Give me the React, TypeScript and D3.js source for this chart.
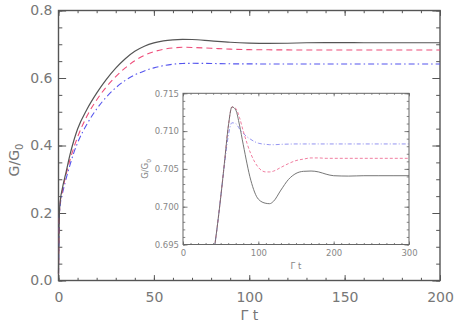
import React, { useEffect, useRef } from 'react';
import * as d3 from 'd3';

// main panel data (Γt vs G/G0)
const mainT = [0, 0.5, 1, 2, 4, 6, 8, 10, 15, 20, 25, 30, 35, 40, 45, 50, 55, 60, 65, 70, 80, 90, 100, 110, 120, 130, 140, 150, 160, 170, 180, 190, 200];
const mainBlack = [0.02, 0.205, 0.24, 0.272, 0.322, 0.372, 0.414, 0.449, 0.508, 0.555, 0.595, 0.629, 0.657, 0.679, 0.694, 0.704, 0.71, 0.713, 0.7143, 0.714, 0.71, 0.706, 0.7035, 0.7025, 0.703, 0.7045, 0.705, 0.7048, 0.7045, 0.7045, 0.7045, 0.7045, 0.7045];
const mainRed = [0.02, 0.2, 0.235, 0.265, 0.315, 0.357, 0.393, 0.425, 0.488, 0.535, 0.573, 0.604, 0.63, 0.651, 0.667, 0.678, 0.685, 0.689, 0.691, 0.6905, 0.688, 0.6855, 0.684, 0.6835, 0.6832, 0.683, 0.683, 0.683, 0.683, 0.683, 0.683, 0.683, 0.683];
const mainBlue = [0.02, 0.195, 0.228, 0.256, 0.302, 0.342, 0.378, 0.408, 0.464, 0.508, 0.543, 0.571, 0.593, 0.609, 0.621, 0.63, 0.6365, 0.6408, 0.643, 0.6435, 0.643, 0.642, 0.6418, 0.6416, 0.6415, 0.6415, 0.6415, 0.6415, 0.6415, 0.6415, 0.6415, 0.6415, 0.6415];

// inset data
const insetT = [38, 45, 50, 55, 60, 65, 70, 75, 80, 90, 100, 110, 115, 120, 130, 140, 150, 160, 170, 180, 190, 200, 220, 240, 260, 280, 300];
const insetBlack = [0.692, 0.697, 0.7012, 0.7058, 0.7105, 0.7132, 0.7128, 0.7108, 0.7082, 0.7035, 0.701, 0.70045, 0.7004, 0.7007, 0.7022, 0.7036, 0.7044, 0.70468, 0.70472, 0.7046, 0.7043, 0.7041, 0.70405, 0.7041, 0.7041, 0.7041, 0.7041];
const insetRed = [0.692, 0.697, 0.7012, 0.7058, 0.7105, 0.7132, 0.713, 0.7118, 0.71, 0.707, 0.7052, 0.7046, 0.7046, 0.7047, 0.7052, 0.7057, 0.7061, 0.7063, 0.70645, 0.70645, 0.7064, 0.7064, 0.7064, 0.7064, 0.7064, 0.7064, 0.7064];
const insetBlue = [0.692, 0.697, 0.7012, 0.7055, 0.7093, 0.7111, 0.711, 0.7103, 0.7097, 0.7089, 0.7084, 0.70825, 0.7082, 0.7082, 0.70825, 0.70828, 0.7083, 0.7083, 0.7083, 0.7083, 0.7083, 0.7083, 0.7083, 0.7083, 0.7083, 0.7083, 0.7083];

const mainXTicks = [0, 50, 100, 150, 200];
const mainYTicks = [0, 0.2, 0.4, 0.6, 0.8];
const insetXTicks = [0, 100, 200, 300];
const insetYTicks = [0.695, 0.7, 0.705, 0.71, 0.715];

const FONT = '"DejaVu Sans", sans-serif';

type Box = { left: number; top: number; right: number; bottom: number };

// IDL style frame: ticks inward on all four sides
const drawFrame = (g, x, y, box: Box, opt) => {
  const w = box.right - box.left;
  const h = box.bottom - box.top;
  const xl = 0.02 * h;
  const yl = 0.02 * w;

  const ax = (axis, tr, vals, size, fmt, pad) => {
    const a = g.append('g').attr('transform', tr).call(
      axis.tickValues(vals).tickSize(-size).tickPadding(pad).tickFormat(fmt)
    );
    a.select('.domain').remove();
    a.selectAll('line').attr('stroke', opt.stroke).attr('stroke-width', opt.tickWidth);
    a.selectAll('text')
      .attr('fill', opt.text)
      .style('font-family', FONT)
      .style('font-size', opt.fontSize + 'px');
    return a;
  };

  const none = () => '';
  // bottom
  ax(d3.axisBottom(x), `translate(0,${box.bottom})`, opt.xTicks, xl, opt.xFmt, opt.xPad);
  ax(d3.axisBottom(x), `translate(0,${box.bottom})`, opt.xMinor, xl / 2, none, 0);
  // top
  ax(d3.axisTop(x), `translate(0,${box.top})`, opt.xTicks, xl, none, 0);
  ax(d3.axisTop(x), `translate(0,${box.top})`, opt.xMinor, xl / 2, none, 0);
  // left
  ax(d3.axisLeft(y), `translate(${box.left},0)`, opt.yTicks, yl, opt.yFmt, opt.yPad);
  ax(d3.axisLeft(y), `translate(${box.left},0)`, opt.yMinor, yl / 2, none, 0);
  // right
  ax(d3.axisRight(y), `translate(${box.right},0)`, opt.yTicks, yl, none, 0);
  ax(d3.axisRight(y), `translate(${box.right},0)`, opt.yMinor, yl / 2, none, 0);

  g.append('rect')
    .attr('x', box.left)
    .attr('y', box.top)
    .attr('width', w)
    .attr('height', h)
    .attr('fill', 'none')
    .attr('stroke', opt.stroke)
    .attr('stroke-width', opt.frameWidth);
};

const App = () => {
  const ref = useRef(null);

  useEffect(() => {
    const svg = d3.select(ref.current);
    svg.selectAll('*').remove();

    // ---------- main panel ----------
    const mb = { left: 58.5, top: 10.5, right: 440, bottom: 280.5 };
    const x = d3.scaleLinear().domain([0, 200]).range([mb.left, mb.right]);
    const y = d3.scaleLinear().domain([0, 0.8]).range([mb.bottom, mb.top]);

    const main = svg.append('g');
    drawFrame(main, x, y, mb, {
      xTicks: mainXTicks,
      xMinor: d3.range(0, 201, 10),
      yTicks: mainYTicks,
      yMinor: d3.range(0, 0.801, 0.05),
      xFmt: d3.format('d'),
      yFmt: d3.format('.1f'),
      stroke: '#555',
      text: '#777',
      fontSize: 14,
      xPad: 12,
      yPad: 6,
      tickWidth: 1,
      frameWidth: 1.4,
    });

    const line = (xs, sx, sy) =>
      d3.line<number>()
        .x((d, i) => sx(xs[i]))
        .y((d) => sy(d))
        .curve(d3.curveMonotoneX);

    const mainSeries = [
      { v: mainBlue, color: '#5555ee', dash: '6,3,1.5,3', w: 1.1 },
      { v: mainRed, color: '#ee4d7a', dash: '6,4', w: 1.1 },
      { v: mainBlack, color: '#555', dash: null, w: 1.2 },
    ];
    mainSeries.forEach((s) => {
      main.append('path')
        .attr('d', line(mainT, x, y)(s.v))
        .attr('fill', 'none')
        .attr('stroke', s.color)
        .attr('stroke-width', s.w)
        .attr('stroke-dasharray', s.dash);
    });

    main.append('text')
      .attr('x', (mb.left + mb.right) / 2)
      .attr('y', 320)
      .attr('text-anchor', 'middle')
      .attr('fill', '#777')
      .style('font-family', FONT)
      .style('font-size', '14px')
      .text('Γ t');

    const yl = main.append('text')
      .attr('transform', 'translate(19,160) rotate(-90)')
      .attr('text-anchor', 'middle')
      .attr('fill', '#777')
      .style('font-family', FONT)
      .style('font-size', '14px');
    yl.append('tspan').text('G/G');
    yl.append('tspan').attr('dy', 4).style('font-size', '10px').text('0');

    // ---------- inset ----------
    const ib = { left: 183, top: 93.3, right: 409, bottom: 244.5 };
    const ix = d3.scaleLinear().domain([0, 300]).range([ib.left, ib.right]);
    const iy = d3.scaleLinear().domain([0.695, 0.715]).range([ib.bottom, ib.top]);

    const inset = svg.append('g');
    inset.append('rect')
      .attr('x', ib.left).attr('y', ib.top)
      .attr('width', ib.right - ib.left).attr('height', ib.bottom - ib.top)
      .attr('fill', '#fff');

    svg.append('defs').append('clipPath').attr('id', 'inset-clip')
      .append('rect')
      .attr('x', ib.left).attr('y', ib.top)
      .attr('width', ib.right - ib.left).attr('height', ib.bottom - ib.top);

    const insetSeries = [
      { v: insetBlue, color: '#8888ee', dash: '4,2,1,2', w: 0.9 },
      { v: insetRed, color: '#ee6f95', dash: '3,2', w: 0.9 },
      { v: insetBlack, color: '#666', dash: null, w: 0.9 },
    ];
    const lines = inset.append('g').attr('clip-path', 'url(#inset-clip)');
    insetSeries.forEach((s) => {
      lines.append('path')
        .attr('d', line(insetT, ix, iy)(s.v))
        .attr('fill', 'none')
        .attr('stroke', s.color)
        .attr('stroke-width', s.w)
        .attr('stroke-dasharray', s.dash);
    });

    drawFrame(inset, ix, iy, ib, {
      xTicks: insetXTicks,
      xMinor: d3.range(0, 301, 10),
      yTicks: insetYTicks,
      yMinor: d3.range(0.695, 0.7151, 0.001),
      xFmt: d3.format('d'),
      yFmt: d3.format('.3f'),
      stroke: '#666',
      text: '#888',
      fontSize: 8.5,
      xPad: 5,
      yPad: 4,
      tickWidth: 0.8,
      frameWidth: 1,
    });

    inset.append('text')
      .attr('x', (ib.left + ib.right) / 2)
      .attr('y', 269)
      .attr('text-anchor', 'middle')
      .attr('fill', '#888')
      .style('font-family', FONT)
      .style('font-size', '8.5px')
      .text('Γ t');

    const iyl = inset.append('text')
      .attr('transform', `translate(148,${(ib.top + ib.bottom) / 2}) rotate(-90)`)
      .attr('text-anchor', 'middle')
      .attr('fill', '#888')
      .style('font-family', FONT)
      .style('font-size', '8.5px');
    iyl.append('tspan').text('G/G');
    iyl.append('tspan').attr('dy', 2.5).style('font-size', '6px').text('0');
  }, []);

  return (
    <svg
      ref={ref}
      width={458}
      height={327}
      style={{ position: 'absolute', left: 0, top: 0, background: '#fff' }}
    />
  );
};

export default App;
